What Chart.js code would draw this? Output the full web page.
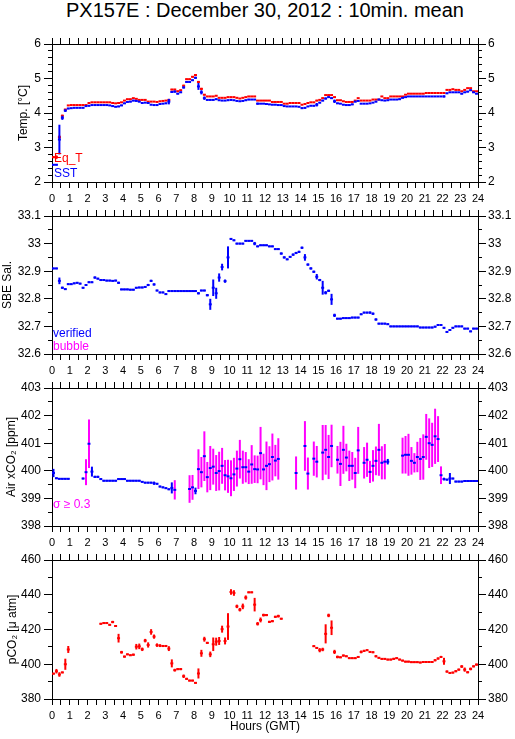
<!DOCTYPE html>
<html>
<head>
<meta charset="utf-8">
<script src="https://cdn.jsdelivr.net/npm/chart.js@4.4.1/dist/chart.umd.min.js"></script>
<style>
html,body{margin:0;padding:0;background:#fff;}
#wrap{position:relative;width:515px;height:739px;overflow:hidden;background:#fff;}
#title{position:absolute;left:0;top:0;width:530px;text-align:center;font:20px/20px "Liberation Sans",Arial,sans-serif;color:#000;white-space:nowrap;}
canvas{position:absolute;left:0;}
</style>
</head>
<body>
<div id="wrap">
<div id="title">PX157E : December 30, 2012 : 10min. mean</div>
<canvas id="c0" width="515" height="172" style="top:30px"></canvas>
<canvas id="c1" width="515" height="172" style="top:202px"></canvas>
<canvas id="c2" width="515" height="172" style="top:374px"></canvas>
<canvas id="c3" width="515" height="193" style="top:546px"></canvas>
</div>
<script>
// ---- time grid: 10-minute bins over the day (hours, GMT) ----
const BIN_HOURS = 10 / 60;
const N_BINS = 144;
const HOURS = Array.from({length: N_BINS}, (_, i) => (i + 0.5) * BIN_HOURS);
const X_TICK_LABELS = ['0','1','2','3','4','5','6','7','8','9','10','11','12','13','14','15','16','17','18','19','20','21','22','23','24'];

// ---- Panel 1: temperatures [°C] ----
const EQ_T = [
 2.72,2.72,3.30,3.92,4.10,4.22, 4.23,4.23,4.23,4.23,4.23,4.23,
 4.29,4.31,4.31,4.31,4.31,4.31, 4.31,4.31,4.29,4.28,4.29,4.31,
 4.36,4.40,4.40,4.43,4.41,4.38, 4.38,4.38,4.33,4.33,4.33,4.32,
 4.34,4.35,4.36,4.38,4.68,4.68, 4.63,4.66,4.79,4.98,4.98,5.05,
 5.10,4.90,4.70,4.53,4.48,4.48, 4.48,4.50,4.44,4.44,4.44,4.46,
 4.46,4.46,4.44,4.42,4.44,4.46, 4.48,4.48,4.48,4.36,4.36,4.36,
 4.36,4.36,4.32,4.32,4.32,4.32, 4.27,4.27,4.29,4.29,4.29,4.29,
 4.24,4.26,4.29,4.31,4.31,4.36, 4.38,4.43,4.52,4.52,4.52,4.46,
 4.37,4.37,4.34,4.32,4.32,4.32, 4.36,4.43,4.36,4.36,4.36,4.36,
 4.39,4.39,4.39,4.48,4.43,4.43, 4.48,4.48,4.48,4.48,4.48,4.53,
 4.56,4.56,4.56,4.56,4.56,4.56, 4.58,4.58,4.58,4.58,4.58,4.58,
 4.58,4.67,4.67,4.69,4.67,4.67, 4.63,4.67,4.72,4.72,4.63,4.63
];
const EQ_T_SD = [
 0.03,0.05,0.05,0.03,0.02,0.01, 0.01,0.01,0.01,0.01,0.01,0.01,
 0.01,0.01,0.01,0.01,0.01,0.01, 0.01,0.01,0.01,0.01,0.01,0.01,
 0.01,0.01,0.01,0.01,0.01,0.01, 0.01,0.01,0.01,0.01,0.01,0.01,
 0.01,0.01,0.01,0.02,0.02,0.02, 0.02,0.02,0.03,0.02,0.02,0.02,
 0.03,0.03,0.03,0.02,0.01,0.01, 0.01,0.01,0.01,0.01,0.01,0.01,
 0.01,0.01,0.01,0.01,0.01,0.01, 0.01,0.01,0.01,0.01,0.01,0.01,
 0.01,0.01,0.01,0.01,0.01,0.01, 0.01,0.01,0.01,0.01,0.01,0.01,
 0.01,0.01,0.01,0.01,0.01,0.02, 0.01,0.02,0.01,0.01,0.01,0.02,
 0.01,0.01,0.01,0.01,0.01,0.01, 0.01,0.01,0.01,0.01,0.01,0.01,
 0.01,0.01,0.01,0.01,0.01,0.01, 0.01,0.01,0.01,0.01,0.01,0.01,
 0.01,0.01,0.01,0.01,0.01,0.01, 0.01,0.01,0.01,0.01,0.01,0.01,
 0.01,0.01,0.01,0.01,0.01,0.01, 0.01,0.01,0.01,0.01,0.01,0.01
];
const SST = [
 2.50,2.50,3.23,3.86,4.07,4.13, 4.14,4.15,4.15,4.15,4.15,4.20,
 4.21,4.23,4.23,4.23,4.23,4.23, 4.23,4.22,4.20,4.18,4.19,4.22,
 4.28,4.32,4.33,4.36,4.35,4.33, 4.29,4.30,4.29,4.24,4.23,4.23,
 4.26,4.27,4.28,4.33,4.61,4.62, 4.56,4.60,4.74,4.90,4.90,4.95,
 5.02,4.77,4.60,4.43,4.38,4.38, 4.38,4.40,4.37,4.36,4.36,4.37,
 4.38,4.37,4.35,4.34,4.35,4.37, 4.39,4.39,4.39,4.27,4.27,4.27,
 4.26,4.25,4.24,4.24,4.23,4.23, 4.20,4.19,4.19,4.19,4.19,4.18,
 4.14,4.15,4.19,4.21,4.21,4.24, 4.30,4.36,4.42,4.46,4.43,4.34,
 4.28,4.27,4.24,4.23,4.23,4.25, 4.33,4.35,4.27,4.27,4.27,4.28,
 4.30,4.33,4.39,4.37,4.36,4.37, 4.39,4.39,4.39,4.40,4.44,4.46,
 4.48,4.48,4.48,4.48,4.48,4.48, 4.48,4.48,4.48,4.48,4.48,4.48,
 4.48,4.57,4.60,4.60,4.60,4.60, 4.56,4.60,4.62,4.66,4.60,4.56
];
const SST_SD = [
 0.02,0.02,0.43,0.06,0.04,0.02, 0.01,0.01,0.01,0.01,0.01,0.02,
 0.02,0.01,0.01,0.01,0.01,0.01, 0.01,0.01,0.02,0.01,0.02,0.02,
 0.02,0.02,0.02,0.02,0.02,0.02, 0.01,0.01,0.02,0.01,0.01,0.01,
 0.01,0.01,0.02,0.08,0.03,0.03, 0.02,0.02,0.03,0.02,0.02,0.02,
 0.03,0.10,0.06,0.05,0.02,0.02, 0.02,0.02,0.01,0.01,0.01,0.02,
 0.02,0.01,0.01,0.01,0.01,0.02, 0.02,0.01,0.01,0.03,0.01,0.01,
 0.01,0.01,0.01,0.01,0.01,0.01, 0.01,0.01,0.01,0.01,0.01,0.01,
 0.02,0.02,0.01,0.01,0.02,0.05, 0.02,0.02,0.03,0.02,0.02,0.05,
 0.02,0.01,0.01,0.01,0.01,0.02, 0.02,0.01,0.01,0.01,0.01,0.01,
 0.01,0.02,0.02,0.01,0.01,0.01, 0.01,0.01,0.01,0.02,0.02,0.01,
 0.01,0.01,0.01,0.01,0.01,0.01, 0.01,0.01,0.01,0.01,0.01,0.01,
 0.03,0.02,0.01,0.01,0.01,0.01, 0.02,0.01,0.02,0.02,0.01,0.02
];

// ---- Panel 2: SBE salinity ----
const SAL = [
 32.910,32.910,32.865,32.840,32.835,32.853, 32.853,32.856,32.858,32.855,32.840,32.850,
 32.860,32.860,32.877,32.873,32.868,32.868, 32.866,32.866,32.865,32.866,32.858,32.834,
 32.834,32.834,32.833,32.833,32.840,32.841, 32.841,32.843,32.850,32.865,32.852,32.830,
 32.823,32.823,32.817,32.828,32.828,32.828, 32.828,32.828,32.828,32.828,32.828,32.828,
 32.828,32.820,32.830,32.830,32.813,32.780, 32.840,32.820,32.877,32.915,32.864,32.950,
 33.017,33.012,33.000,33.000,33.000,33.010, 33.010,33.010,33.000,32.990,32.994,32.994,
 32.994,32.990,32.990,32.980,32.980,32.964, 32.950,32.943,32.952,32.960,32.966,32.970,
 32.985,32.950,32.924,32.910,32.898,32.880, 32.868,32.840,32.822,32.829,32.798,32.740,
 32.728,32.728,32.730,32.730,32.730,32.732, 32.732,32.732,32.744,32.750,32.750,32.750,
 32.746,32.725,32.710,32.710,32.710,32.708, 32.700,32.700,32.700,32.700,32.700,32.700,
 32.700,32.700,32.700,32.700,32.696,32.696, 32.696,32.696,32.696,32.699,32.705,32.705,
 32.695,32.680,32.687,32.695,32.700,32.700, 32.700,32.692,32.692,32.682,32.692,32.692
];
const SAL_SD = [
 0.003,0.003,0.012,0.004,0.003,0.003, 0.003,0.003,0.003,0.003,0.003,0.003,
 0.003,0.003,0.004,0.003,0.003,0.003, 0.003,0.003,0.003,0.003,0.004,0.003,
 0.003,0.003,0.003,0.003,0.003,0.003, 0.003,0.003,0.004,0.004,0.004,0.003,
 0.003,0.003,0.003,0.003,0.003,0.003, 0.003,0.003,0.003,0.003,0.003,0.003,
 0.003,0.004,0.003,0.003,0.004,0.020, 0.030,0.020,0.015,0.012,0.006,0.040,
 0.003,0.003,0.003,0.003,0.003,0.003, 0.003,0.003,0.006,0.003,0.003,0.003,
 0.003,0.003,0.003,0.003,0.003,0.004, 0.004,0.003,0.003,0.004,0.004,0.004,
 0.004,0.012,0.004,0.004,0.004,0.010, 0.004,0.025,0.006,0.004,0.020,0.006,
 0.003,0.003,0.003,0.003,0.003,0.003, 0.003,0.003,0.003,0.003,0.003,0.004,
 0.004,0.004,0.003,0.003,0.003,0.003, 0.003,0.003,0.003,0.003,0.003,0.003,
 0.003,0.003,0.003,0.003,0.003,0.003, 0.003,0.003,0.003,0.003,0.003,0.003,
 0.003,0.003,0.003,0.003,0.003,0.003, 0.003,0.003,0.003,0.003,0.003,0.003
];

// ---- Panel 3: air xCO2 [ppm] ----
const AIR_XCO2 = [
 399.92,399.73,399.71,399.71,399.71,399.71, null,null,null,null,399.72,399.95,
 400.98,399.97,399.78,399.78,399.70,399.64, 399.64,399.64,399.64,399.64,399.70,399.70,
 399.70,399.64,399.64,399.64,399.64,399.64, 399.60,399.57,399.57,399.57,399.55,399.53,
 399.43,399.40,399.37,399.33,399.38,399.31, null,null,null,null,399.34,399.40,
 399.27,400.06,399.95,400.53,399.77,400.10, 400.15,399.92,399.99,400.18,399.84,399.80,
 399.73,399.87,400.08,400.42,400.13,400.13, 399.97,400.23,400.06,400.05,400.64,400.05,
 400.18,400.24,400.50,400.37,400.43,null, null,null,null,null,399.92,null,
 null,400.90,399.90,null,400.44,400.33, null,400.66,400.76,400.50,400.90,null,
 400.40,400.25,400.76,400.48,400.18,400.18, 399.92,400.74,null,400.29,400.40,399.96,
 400.18,400.36,400.76,400.29,400.33,400.33, null,null,null,null,400.55,400.58,
 400.58,400.36,400.29,400.50,400.43,400.50, 401.23,401.00,400.94,401.25,401.15,399.84,
 399.70,399.68,399.72,399.72,399.61,399.61, 399.61,399.63,399.63,399.63,399.63,399.63
];
const AIR_XCO2_SD = [
 0.15,0.03,0.03,0.03,0.03,0.03, 0,0,0,0,0.03,0.47,
 0.88,0.18,0.04,0.04,0.03,0.03, 0.03,0.03,0.03,0.03,0.03,0.03,
 0.03,0.03,0.03,0.03,0.03,0.03, 0.03,0.03,0.03,0.03,0.06,0.03,
 0.03,0.03,0.03,0.03,0.20,0.35, 0,0,0,0,0.50,0.45,
 0.12,0.72,0.55,0.90,0.55,0.80, 0.65,0.65,0.70,0.65,0.55,0.60,
 0.65,0.60,0.65,0.70,0.60,0.55, 0.45,0.70,0.50,0.50,0.95,0.57,
 0.88,0.65,0.85,0.57,0.75,0, 0,0,0,0,0.60,0,
 0,0.90,0.58,0,0.62,0.57, 0,1.00,0.90,0.80,0.77,0,
 0.50,0.80,0.87,0.50,0.55,0.50, 0.55,0.85,0,0.57,0.62,0.40,
 0.57,0.52,0.94,0.60,0.64,0.10, 0,0,0,0,0.65,0.68,
 0.76,0.50,0.35,0.55,0.76,0.82, 0.83,0.90,0.80,1.00,0.83,0.32,
 0.05,0.03,0.20,0.03,0.03,0.03, 0.03,0.03,0.03,0.03,0.03,0.03
];
const SIGMA_FLAG = 0.3;

// ---- Panel 4: seawater pCO2 [µatm] ----
const PCO2 = [
 394.6,396.0,394.1,395.3,400.0,408.5, null,null,null,null,null,null,
 null,null,null,null,423.3,423.7, 423.7,422.7,424.3,422.0,415.0,406.9,
 404.4,405.7,405.2,405.5,410.1,410.3, 408.6,413.6,411.1,418.6,415.9,411.0,
 410.7,410.5,410.5,409.0,400.5,396.6, 397.2,397.2,393.1,391.6,390.6,390.6,
 389.3,394.7,406.3,414.4,412.3,405.7, 411.5,413.0,413.4,420.2,413.4,421.7,
 441.6,441.0,433.3,431.4,433.3,438.4, 441.4,441.4,434.3,423.3,425.5,428.3,
 428.3,424.4,424.8,427.3,427.7,426.2, null,null,null,null,null,null,
 null,null,null,null,410.4,409.4, 408.1,408.5,417.5,428.1,421.0,407.1,
 404.2,404.0,405.0,404.6,403.5,403.5, 403.5,404.2,407.1,407.7,408.1,407.1,
 406.9,404.6,403.7,403.1,403.1,402.7, 402.7,403.1,403.5,402.7,402.1,401.5,
 401.5,401.2,401.2,401.2,401.0,401.3, 401.3,401.3,401.3,402.3,403.3,404.2,
 401.7,395.8,395.0,395.2,396.0,396.9, 398.7,396.9,395.4,397.3,398.8,399.8
];
const PCO2_SD = [
 0.5,1.3,1.3,0.5,3.2,2.0, 0,0,0,0,0,0,
 0,0,0,0,0.5,0.5, 0.5,0.5,0.7,0.5,2.5,0.8,
 0.6,0.5,0.5,0.6,1.6,1.6, 1.0,1.0,1.5,1.6,1.2,1.0,
 0.8,0.6,0.6,1.4,2.3,0.8, 0.6,0.6,1.0,0.6,0.5,0.5,
 0.5,2.9,2.0,1.4,0.6,1.6, 3.9,2.3,2.3,2.0,2.0,7.7,
 1.6,1.6,1.0,1.0,1.6,1.2, 0.5,0.5,3.9,1.0,1.4,0.8,
 0.6,0.6,0.6,0.6,0.8,0.5, 0,0,0,0,0,0,
 0,0,0,0,0.5,0.5, 1.2,1.0,5.5,1.0,4.2,1.2,
 0.8,0.5,0.6,0.5,0.5,0.5, 0.5,0.5,0.8,0.6,0.5,0.5,
 0.5,0.6,0.5,0.5,0.5,0.5, 0.5,0.6,0.5,0.5,0.5,0.5,
 0.5,0.5,0.5,0.5,0.5,0.5, 0.5,0.5,0.5,0.6,0.6,0.6,
 2.0,0.6,0.5,0.5,0.6,0.6, 0.8,1.2,0.6,0.8,0.6,0.6
];

// ---- styling ----
const BLUE = '#0000ff', RED = '#ff0000', MAGENTA = '#ff00ff';
const FONT = "'Liberation Sans', Arial, Helvetica, sans-serif";
Chart.defaults.font.family = FONT;
Chart.defaults.color = '#000';

function halfBinRadius(c) {
  const xs = c.chart.scales.x;
  const r = Math.abs(xs.getPixelForValue(BIN_HOURS / 2) - xs.getPixelForValue(0));
  return isFinite(r) && r > 0 ? r : 1.5;
}
function errRadius(c) {
  const ys = c.chart.scales.y;
  const raw = c.raw;
  if (!raw) return 0;
  const r = Math.abs(ys.getPixelForValue(raw.y + raw.e) - ys.getPixelForValue(raw.y));
  return isFinite(r) ? r : 0;
}

const notesPlugin = {
  id: 'notes',
  afterDraw(chart, args, opts) {
    const {ctx, chartArea: a} = chart;
    ctx.save();
    ctx.font = '12px ' + FONT;
    ctx.textBaseline = 'alphabetic';
    ctx.textAlign = 'left';
    (opts.items || []).forEach(it => {
      ctx.fillStyle = it.color;
      ctx.fillText(it.text, a.left + it.dx, a.bottom - it.dy);
    });
    ctx.restore();
  }
};

function fmt(v) { return String(Math.round(v * 1000) / 1000); }

function makePanel(id, o) {
  const canvas = document.getElementById(id);
  const H = canvas.height;
  const datasets = [];
  let order = 0;
  o.series.forEach(s => {
    const seg = [], err = [];
    s.vals.forEach((v, i) => {
      if (v === null || v === undefined) return;
      seg.push({x: HOURS[i], y: v});
      err.push({x: HOURS[i], y: v, e: s.sd[i]});
    });
    datasets.push({
      label: s.name, data: seg, order: order++, showLine: false,
      pointStyle: 'line', pointRotation: 0, pointRadius: halfBinRadius,
      pointBorderColor: s.color, pointBackgroundColor: s.color, pointBorderWidth: 2
    });
    datasets.push({
      label: s.name + ' sd', data: err, order: order++, showLine: false,
      pointStyle: 'line', pointRotation: 90, pointRadius: errRadius,
      pointBorderColor: s.errColor || s.color, pointBackgroundColor: s.errColor || s.color, pointBorderWidth: 2
    });
  });
  // draw the "segment" datasets on top of their error bars: reverse orders so segments come last
  const tickGrid = (len) => ({drawOnChartArea: false, drawTicks: true, tickLength: len, color: '#000', lineWidth: 1});
  const chartTop = 14;
  const bottomH = H - chartTop - o.plotH;
  const scales = {
    x: {
      type: 'linear', position: 'bottom', min: 0, max: 24, offset: false,
      grid: tickGrid(6), border: {display: true, color: '#000', width: 1},
      ticks: {stepSize: 0.5, autoSkip: false, maxRotation: 0, minRotation: 0, padding: 4,
              font: {size: 11}, color: '#000',
              callback: v => Number.isInteger(v) ? X_TICK_LABELS[v] : ''},
      title: o.xTitle ? {display: true, text: o.xTitle, font: {size: 12}, color: '#000', padding: {top: 0, bottom: 5}} : {display: false},
      afterFit: s => { s.height = bottomH; }
    },
    xt: {
      type: 'linear', position: 'top', min: 0, max: 24, offset: false,
      grid: tickGrid(6), border: {display: true, color: '#000', width: 1},
      ticks: {stepSize: 0.5, autoSkip: false, display: false},
      afterFit: s => { s.height = 0; }
    },
    y: {
      type: 'linear', position: 'left', weight: 2, min: o.min, max: o.max,
      grid: tickGrid(8), border: {display: true, color: '#000', width: 1},
      ticks: {stepSize: o.major, padding: 3, font: {size: 12}, color: '#000', callback: fmt},
      title: {display: true, text: o.yTitle, font: {size: 12}, color: '#000', padding: {top: o.titlePad, bottom: 0}},
      afterFit: s => { s.width = 52; }
    },
    ym: {
      type: 'linear', position: 'left', weight: 1, min: o.min, max: o.max,
      grid: tickGrid(4), border: {display: true, color: '#000', width: 1},
      ticks: {stepSize: o.minor, display: false},
      afterFit: s => { s.width = 0; }
    },
    yr: {
      type: 'linear', position: 'right', weight: 2, min: o.min, max: o.max,
      grid: tickGrid(8), border: {display: true, color: '#000', width: 1},
      ticks: {stepSize: o.major, padding: 2, font: {size: 12}, color: '#000', callback: fmt},
      afterFit: s => { s.width = 37; }
    },
    yrm: {
      type: 'linear', position: 'right', weight: 1, min: o.min, max: o.max,
      grid: tickGrid(4), border: {display: true, color: '#000', width: 1},
      ticks: {stepSize: o.minor, display: false},
      afterFit: s => { s.width = 0; }
    }
  };
  return new Chart(canvas, {
    type: 'scatter',
    data: {datasets},
    options: {
      responsive: false, animation: false, events: [],
      devicePixelRatio: 1,
      layout: {padding: {top: chartTop, left: 0, right: 0, bottom: 0}},
      scales,
      plugins: {legend: {display: false}, tooltip: {enabled: false}, title: {display: false},
                notes: {items: o.notes || []}}
    },
    plugins: [notesPlugin]
  });
}

makePanel('c0', {
  min: 2, max: 6, major: 1, minor: 0.2, plotH: 138, yTitle: 'Temp. [°C]', titlePad: 16,
  series: [
    {name: 'SST', vals: SST, sd: SST_SD, color: BLUE},
    {name: 'Eq_T', vals: EQ_T, sd: EQ_T_SD, color: RED}
  ],
  notes: [{text: 'Eq_T', color: RED, dx: 2, dy: 20}, {text: 'SST', color: BLUE, dx: 2, dy: 5}]
});
makePanel('c1', {
  min: 32.6, max: 33.1, major: 0.1, minor: 0.05, plotH: 138, yTitle: 'SBE Sal.', titlePad: 0,
  series: [{name: 'SBE Sal.', vals: SAL, sd: SAL_SD, color: BLUE}],
  notes: [{text: 'verified', color: BLUE, dx: 1, dy: 17}, {text: 'bubble', color: MAGENTA, dx: 1, dy: 4}]
});
makePanel('c2', {
  min: 398, max: 403, major: 1, minor: 0.5, plotH: 138, yTitle: 'Air xCO\u2082 [ppm]', titlePad: 4,
  series: [{name: 'Air xCO2', vals: AIR_XCO2, sd: AIR_XCO2_SD, color: BLUE,
            errColor: c => (c.raw && c.raw.e >= SIGMA_FLAG) ? MAGENTA : BLUE}],
  notes: [{text: '\u03c3 \u2265 0.3', color: MAGENTA, dx: 1, dy: 18}]
});
makePanel('c3', {
  min: 380, max: 460, major: 20, minor: 10, plotH: 139, yTitle: 'pCO\u2082 [\u03bc atm]', titlePad: 5,
  xTitle: 'Hours (GMT)',
  series: [{name: 'pCO2', vals: PCO2, sd: PCO2_SD, color: RED}]
});
</script>
</body>
</html>
